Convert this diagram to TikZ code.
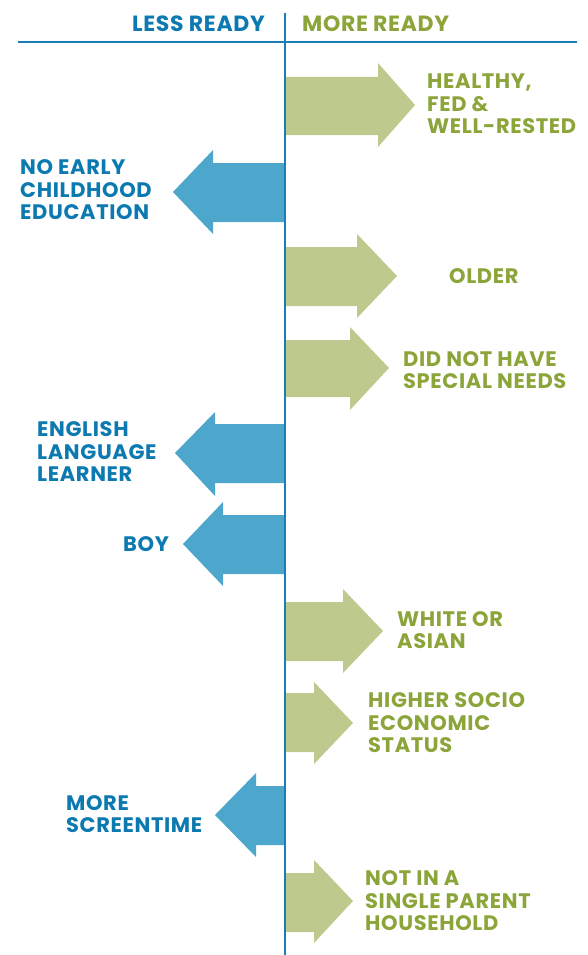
\documentclass[tikz,border=0pt]{standalone}
\usepackage{fontspec}
\setmainfont{Poppins}[LetterSpace=3]
\usepackage{xcolor}
\usepackage{tikz}
\definecolor{axisblue}{HTML}{1B7DB5}
\definecolor{lessblue}{HTML}{0C7AB0}
\definecolor{lessfill}{HTML}{4DA6CB}
\definecolor{moregreen}{HTML}{8BA53A}
\definecolor{morefill}{HTML}{BEC98E}
\tikzset{
  lesstext/.style={text=lessblue,font=\bfseries\fontsize{21}{22.5}\selectfont,align=left,anchor=west,inner sep=0pt},
  moretext/.style={text=moregreen,font=\bfseries\fontsize{21}{22.5}\selectfont,align=left,anchor=west,inner sep=0pt},
  headtext/.style={font=\bfseries\fontsize{22}{22}\selectfont,inner sep=0pt}
}

\begin{document}
\begin{tikzpicture}[x=1pt,y=-1pt]
        \useasboundingbox (0,0) rectangle (588,955);
        % arrows
        \fill[morefill] (285,77)--(378,77)--(378,63)--(415,105)--(378,147)--(378,135)--(285,135)--cycle;
        \fill[lessfill] (285,163)--(213,163)--(213,150)--(173,192)--(213,234)--(213,222)--(285,222)--cycle;
        \fill[morefill] (285,247)--(357,247)--(357,234)--(397,276)--(357,318)--(357,306)--(285,306)--cycle;
        \fill[morefill] (285,340)--(350,340)--(350,327)--(389,368)--(350,410)--(350,397)--(285,397)--cycle;
        \fill[lessfill] (285,424)--(215,424)--(215,412)--(175,453)--(215,496)--(215,483)--(285,483)--cycle;
        \fill[lessfill] (285,515)--(223,515)--(223,502)--(183,544)--(223,586)--(223,574)--(285,574)--cycle;
        \fill[morefill] (285,602)--(343,602)--(343,589)--(383,631)--(343,673)--(343,661)--(285,661)--cycle;
        \fill[morefill] (285,693)--(314,693)--(314,682)--(353,723)--(314,764)--(314,752)--(285,752)--cycle;
        \fill[lessfill] (285,786)--(256,786)--(256,773)--(215,815)--(256,857)--(256,845)--(285,845)--cycle;
        \fill[morefill] (285,873)--(314,873)--(314,860)--(353,901)--(314,943)--(314,932)--(285,932)--cycle;
        % axes
        \draw[axisblue,line width=2.2pt] (18,42)--(577,42);
        \draw[axisblue,line width=2.2pt] (285,13)--(285,955);
        \node[headtext,text=lessblue,anchor=east] (less) at (265,24) {LESS READY};
        \node[headtext,text=moregreen,anchor=west] (more) at (302,24) {MORE READY};
        % labels
        \node[moretext] (healthy) at (427,104) {HEALTHY,\\FED \&\\WELL-RESTED};
        \node[lesstext] (noearly) at (20,190) {NO EARLY\\CHILDHOOD\\EDUCATION};
        \node[moretext] (older) at (449,276) {OLDER};
        \node[moretext] (special) at (403,370) {DID NOT HAVE\\SPECIAL NEEDS};
        \node[lesstext] (english) at (37,452) {ENGLISH\\LANGUAGE\\LEARNER};
        \node[lesstext] (boy) at (123,544) {BOY};
        \node[moretext] (white) at (397,630) {WHITE OR\\ASIAN};
        \node[moretext] (socio) at (368,723) {HIGHER SOCIO\\ECONOMIC\\STATUS};
        \node[lesstext] (screen) at (66,814) {MORE\\SCREENTIME};
        \node[moretext] (single) at (365,901) {NOT IN A\\SINGLE PARENT\\HOUSEHOLD};
    \end{tikzpicture}
\end{document}
